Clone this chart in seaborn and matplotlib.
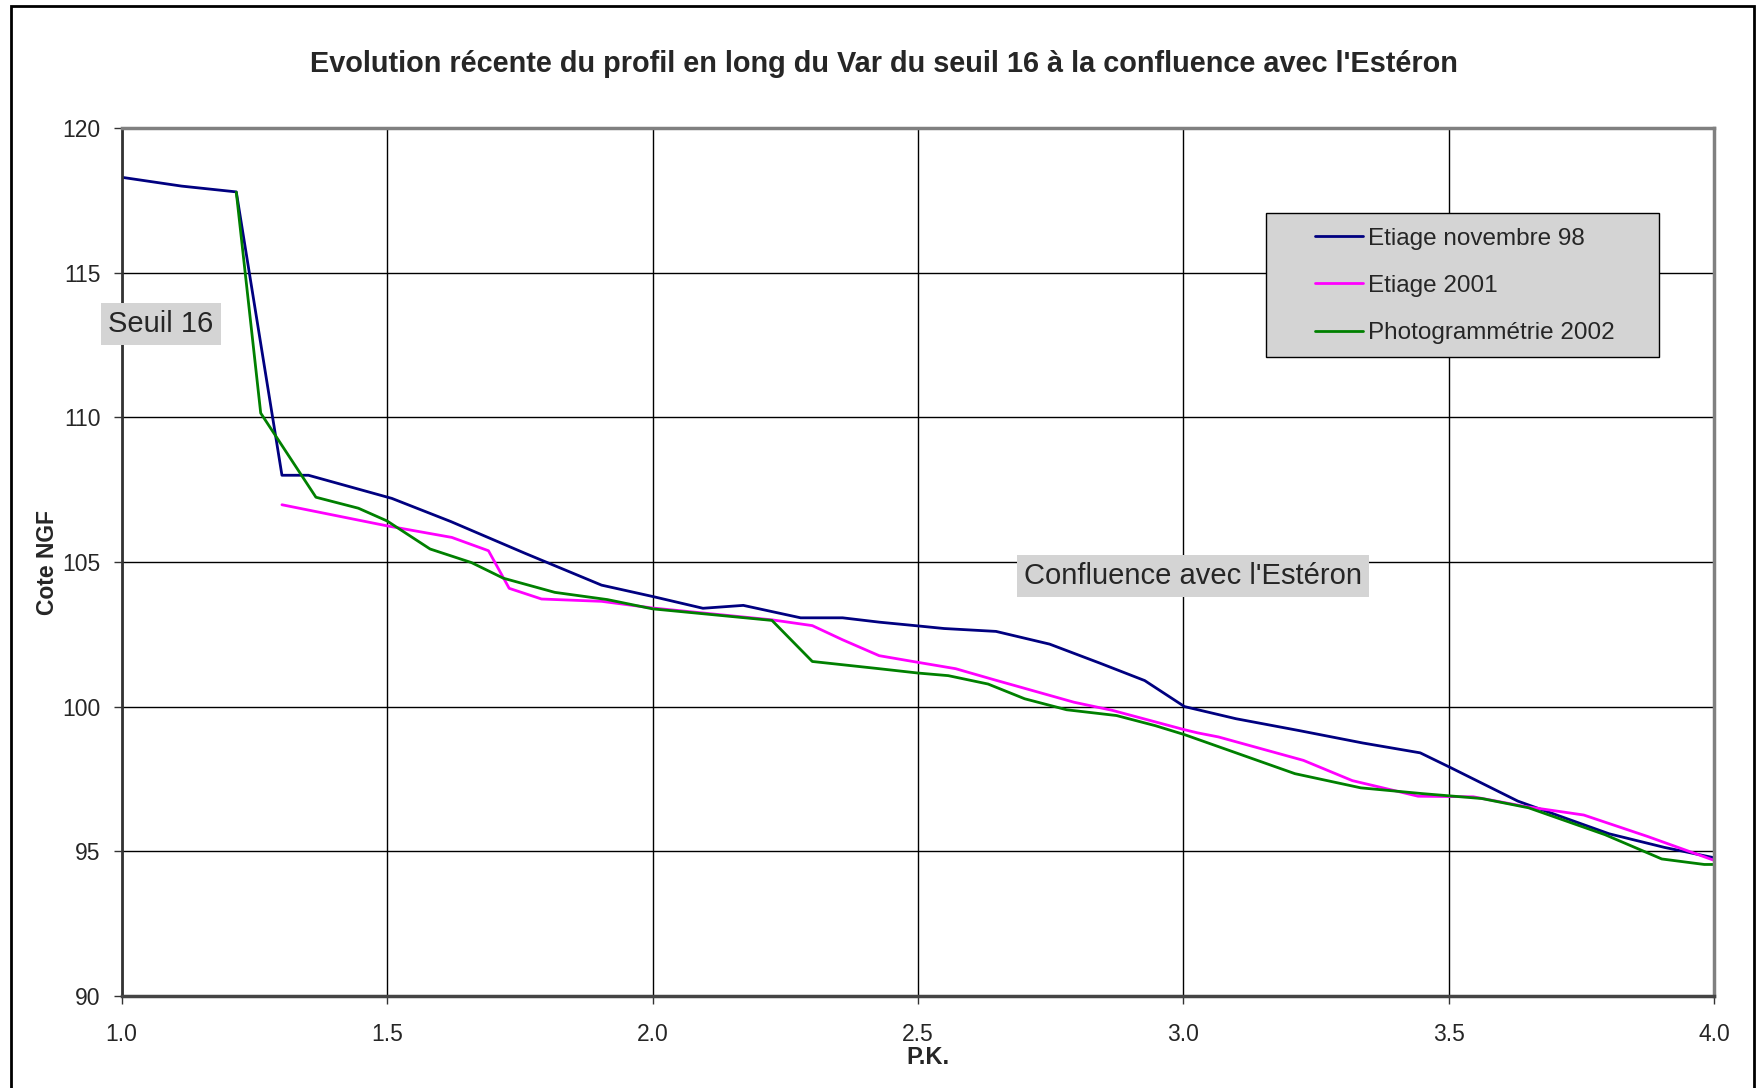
import matplotlib
matplotlib.use("Agg")
import matplotlib.pyplot as plt
import pandas as pd
import seaborn as sns
from matplotlib.lines import Line2D
from matplotlib.patches import Rectangle

# Etiage novembre 98
pk_98 = [1.002, 1.113, 1.216, 1.302, 1.352, 1.509, 1.62, 1.76, 1.904, 2.002, 2.095,
         2.171, 2.279, 2.358, 2.427, 2.5, 2.549, 2.647, 2.748, 2.843, 2.927, 3.002,
         3.099, 3.218, 3.338, 3.446, 3.502, 3.63, 3.802, 3.906, 4.0]
z_98 = [118.3, 118.0, 117.8, 108.0, 108.0, 107.2, 106.4, 105.3, 104.2, 103.8, 103.4,
        103.5, 103.07, 103.07, 102.92, 102.79, 102.7, 102.6, 102.16, 101.5, 100.9, 100.0,
        99.58, 99.17, 98.74, 98.4, 97.9, 96.73, 95.6, 95.13, 94.77]

# Etiage 2001
pk_01 = [1.302, 1.5, 1.622, 1.691, 1.73, 1.791, 1.904, 2.0, 2.225, 2.301, 2.358,
         2.427, 2.5, 2.571, 2.643, 2.794, 2.866, 3.002, 3.027, 3.066, 3.226, 3.318,
         3.442, 3.546, 3.642, 3.754, 3.874, 4.0]
z_01 = [106.98, 106.25, 105.85, 105.39, 104.09, 103.72, 103.64, 103.41, 103.0, 102.8, 102.31,
        101.76, 101.53, 101.31, 100.93, 100.15, 99.87, 99.2, 99.09, 98.95, 98.14, 97.44,
        96.9, 96.88, 96.55, 96.25, 95.51, 94.68]

# Photogrammetrie 2002
pk_02 = [1.216, 1.262, 1.366, 1.446, 1.5, 1.581, 1.659, 1.719, 1.816, 1.915, 2.0,
         2.225, 2.301, 2.427, 2.5, 2.557, 2.632, 2.701, 2.78, 2.874, 2.947, 3.002,
         3.21, 3.334, 3.45, 3.562, 3.65, 3.794, 3.901, 3.981, 4.0]
z_02 = [117.79, 110.15, 107.24, 106.86, 106.42, 105.45, 104.98, 104.44, 103.95, 103.7, 103.38,
        102.98, 101.56, 101.31, 101.16, 101.07, 100.78, 100.27, 99.89, 99.69, 99.34, 99.03,
        97.68, 97.19, 96.99, 96.82, 96.5, 95.57, 94.73, 94.54, 94.54]

series_names = ["Etiage novembre 98", "Etiage 2001", "Photogrammétrie 2002"]
series_colors = ["#000080", "#FF00FF", "#008000"]

df = pd.concat([
    pd.DataFrame({"pk": pk_98, "z": z_98, "serie": series_names[0]}),
    pd.DataFrame({"pk": pk_01, "z": z_01, "serie": series_names[1]}),
    pd.DataFrame({"pk": pk_02, "z": z_02, "serie": series_names[2]}),
])

sns.set_style("white")
plt.rcParams["font.family"] = ["Liberation Sans", "DejaVu Sans"]

fig = plt.figure(figsize=(17.65, 10.88), dpi=100)
ax = fig.add_axes([0.0689, 0.0848, 0.9024, 0.7973])

for name, color in zip(series_names, series_colors):
    sns.lineplot(data=df[df["serie"] == name], x="pk", y="z", color=color,
                 linewidth=2, sort=False, estimator=None, ax=ax, legend=False)

ax.set_xlim(1.0, 4.0)
ax.set_ylim(90, 120)
ax.set_xticks([1.0, 1.5, 2.0, 2.5, 3.0, 3.5, 4.0])
ax.set_xticklabels(["1.0", "1.5", "2.0", "2.5", "3.0", "3.5", "4.0"])
ax.set_yticks([90, 95, 100, 105, 110, 115, 120])
ax.grid(True, color="black", linewidth=1)
ax.tick_params(direction="out", length=5.5, width=1, labelsize=16.5, color="#333333",
               bottom=True, left=True)
ax.tick_params(axis="x", pad=14)
ax.tick_params(axis="y", pad=9.5)
for s in ["top", "bottom", "right"]:
    ax.spines[s].set_color("#808080")
    ax.spines[s].set_linewidth(2.5)
ax.spines["bottom"].set_color("#444444")
ax.spines["left"].set_color("#333333")
ax.spines["left"].set_linewidth(2)

ax.set_xlabel("P.K.", fontsize=17, fontweight="bold")
ax.set_ylabel("Cote NGF", fontsize=16.5, fontweight="bold")
ax.xaxis.set_label_coords(0.5064, -0.058)
ax.yaxis.set_label_coords(-0.039, 0.5)
fig.text(0.5006, 0.941, "Evolution récente du profil en long du Var du seuil 16 à la confluence avec l'Estéron",
         ha="center", va="center", fontsize=20.8, fontweight="bold")

# legend box drawn by hand (Excel style, wide side padding)
fig.add_artist(Rectangle((0.7175, 0.6721), 0.2226, 0.1324, transform=fig.transFigure,
                         facecolor="#d4d4d4", edgecolor="black", lw=1, zorder=5))
handles = [Line2D([0], [0], color=c, lw=2) for c in series_colors]
leg = fig.legend(handles, series_names, loc="center left", bbox_to_anchor=(0.7449, 0.7372),
                 bbox_transform=fig.transFigure, fontsize=17.5, frameon=False,
                 handlelength=2.0, handletextpad=0.2, labelspacing=1.04,
                 borderpad=0, borderaxespad=0)
leg.set_zorder(6)

box = dict(facecolor="#d4d4d4", edgecolor="none", pad=5)
ax.text(0.0247, 0.774, "Seuil 16", transform=ax.transAxes, ha="center", va="center",
        fontsize=21, bbox=box, clip_on=False)
ax.text(0.6725, 0.484, "Confluence avec l'Estéron", transform=ax.transAxes, ha="center",
        va="center", fontsize=21, bbox=box)

fig.add_artist(Rectangle((11 / 1765, -0.01), (1754 - 11) / 1765, 1 - 6 / 1088 + 0.01,
                         transform=fig.transFigure, fill=False, edgecolor="black", lw=2))

fig.savefig("out.png", dpi=100)
